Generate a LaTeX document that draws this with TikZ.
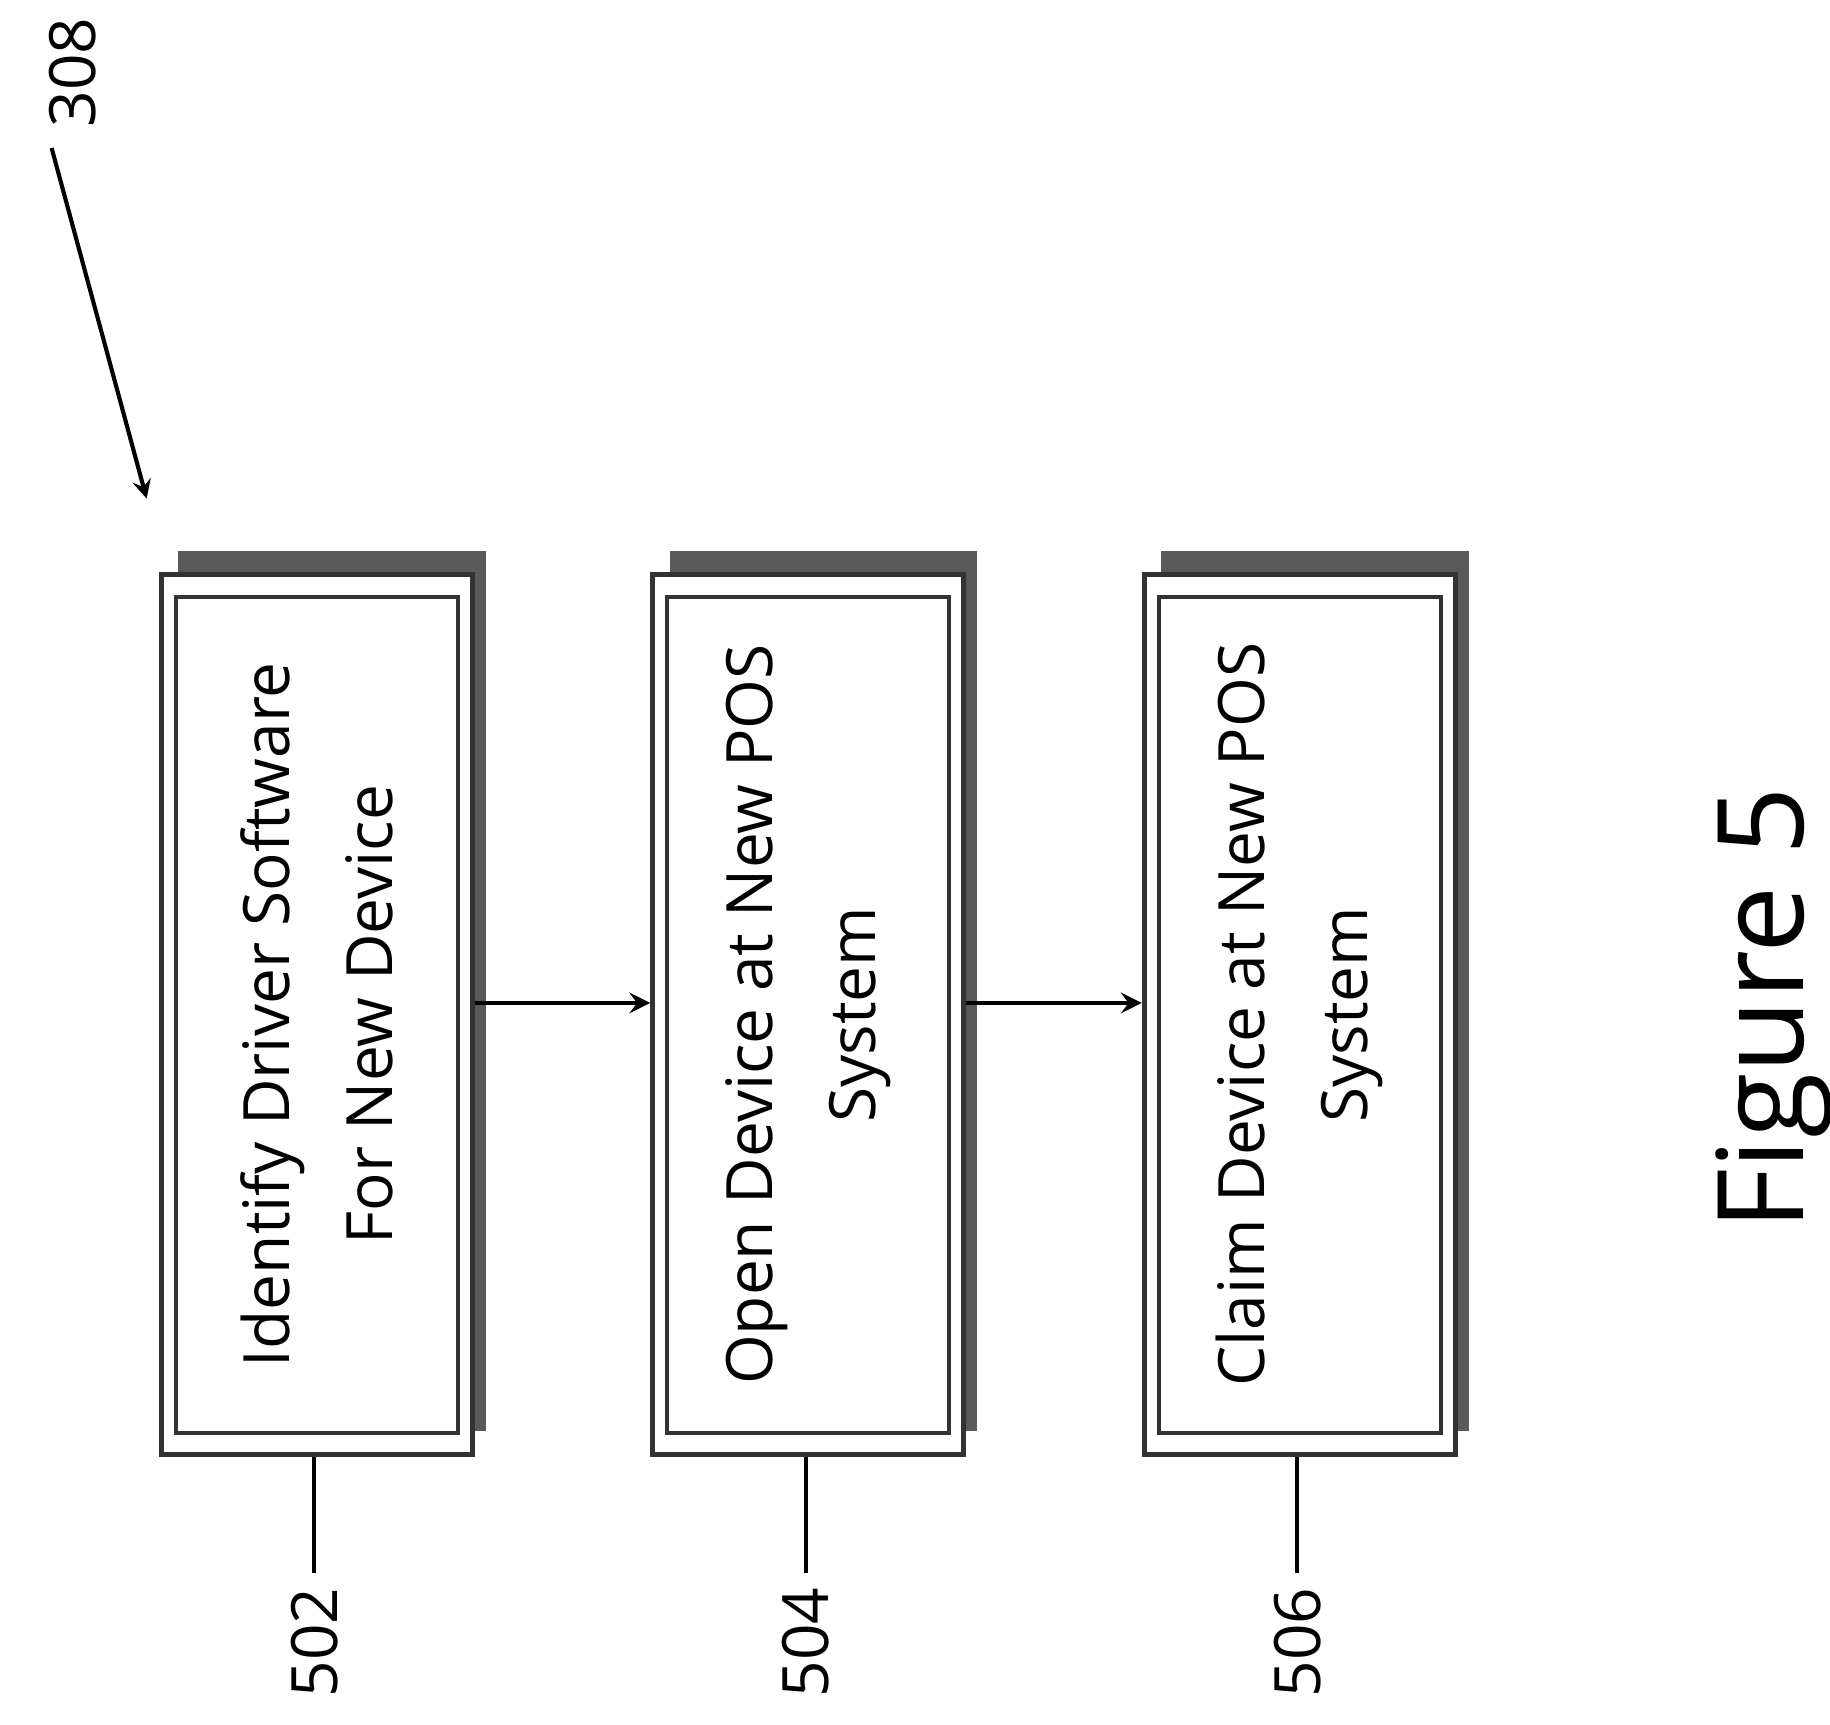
\documentclass[tikz,border=0pt]{standalone}
\usepackage{fontspec}
\setmainfont{Open Sans}
\usetikzlibrary{positioning}
\tikzset{
  stepbox/.style={draw=black!80, line width=1.2pt, fill=white, minimum width=2.65cm, minimum height=7.5cm},
  steptext/.style={draw=black!80, line width=1pt, align=center, font=\fontsize{15.5}{25}\selectfont, rotate=90},
  shadebox/.style={fill=black!65},
  tag/.style={font=\fontsize{15.5}{18}\selectfont, rotate=90},
}
\begin{document}
\begin{tikzpicture}[x=0.01cm,y=-0.01cm]
    \useasboundingbox (0,0) rectangle (1560,1470);

    % Bloques
    \foreach \x/\nm/\num/\txt in {270/a/502/{Identify Driver Software\\For New Device},
                                  689/b/504/{Open Device at New POS\\System},
                                  1108/c/506/{Claim Device at New POS\\System}} {
      \fill[shadebox] (\x-118,470) rectangle (\x+144,1220);
      \node[stepbox] (\nm) at (\x,865) {};
      \node[steptext, minimum width=7.12cm, minimum height=2.4cm] (\nm t) at (\x,865) {\txt};
      \node[tag] (\nm l) at (\x-2,1400) {\num};
      \draw[line width=1pt] (\nm.south -| \nm l) -- (\nm l.east);
    }

    % Flechas
    \draw[->, line width=1.2pt, >=stealth] (a.east |- 0,855) -- (b.west |- 0,855);
    \draw[->, line width=1.2pt, >=stealth] (b.east |- 0,855) -- (c.west |- 0,855);

    % Referencia
    \node[tag] (ref) at (62,62) {308};
    \coordinate (refend) at (125,425);
    \draw[->, line width=1pt, >=stealth] (ref.west) ++(-18,5) -- (refend);

    \node[rotate=90, font=\fontsize{29}{32}\selectfont] (fig) at (1512,860) {Figure 5};
\end{tikzpicture}
\end{document}
